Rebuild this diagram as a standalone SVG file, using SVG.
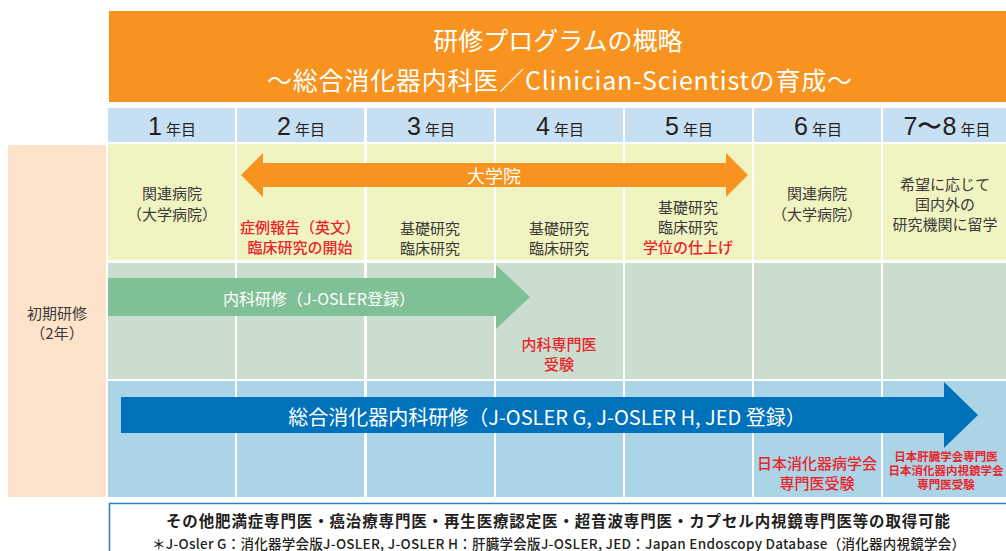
<svg xmlns="http://www.w3.org/2000/svg" width="1006" height="551" viewBox="0 0 1006 551">
<style>
text{font-family:"Noto Sans CJK JP","Noto Sans",sans-serif;}
.t{font-size:15px;fill:#3a3a3a;text-anchor:middle;dominant-baseline:central;}
.r{font-size:15px;fill:#e8252b;text-anchor:middle;dominant-baseline:central;font-weight:500;}
.rs{font-size:11.5px;fill:#e8252b;text-anchor:middle;dominant-baseline:central;font-weight:700;}
.w{fill:#fff;text-anchor:middle;dominant-baseline:central;}
.hd{fill:#c6dff2;}
.y{fill:#f1f3c1;}
.g{fill:#cbddcf;}
.b{fill:#abd4e7;}
.yr{font-size:15px;fill:#231f20;text-anchor:middle;}
.num{font-family:"Liberation Sans",sans-serif;font-size:25px;}
</style>
<rect width="1006" height="551" fill="#fff"/>
<g id="title">
<rect x="109" y="11" width="897" height="91" fill="#f7931e"/>
<text class="w" x="558" y="39" font-size="25">研修プログラムの概略</text>
<text class="w" x="559.5" y="79" font-size="25" textLength="585">〜総合消化器内科医／Clinician-Scientistの育成〜</text>
</g>
<g id="header">
<rect class="hd" x="108" y="108" width="127" height="34"/>
<rect class="hd" x="237" y="108" width="127" height="34"/>
<rect class="hd" x="367" y="108" width="127" height="34"/>
<rect class="hd" x="496" y="108" width="127" height="34"/>
<rect class="hd" x="625" y="108" width="127" height="34"/>
<rect class="hd" x="754" y="108" width="127" height="34"/>
<rect class="hd" x="883" y="108" width="123" height="34"/>
<text class="yr" x="172" y="135"><tspan class="num">1</tspan><tspan dx="4">年目</tspan></text>
<text class="yr" x="301" y="135"><tspan class="num">2</tspan><tspan dx="4">年目</tspan></text>
<text class="yr" x="431" y="135"><tspan class="num">3</tspan><tspan dx="4">年目</tspan></text>
<text class="yr" x="560" y="135"><tspan class="num">4</tspan><tspan dx="4">年目</tspan></text>
<text class="yr" x="689" y="135"><tspan class="num">5</tspan><tspan dx="4">年目</tspan></text>
<text class="yr" x="818" y="135"><tspan class="num">6</tspan><tspan dx="4">年目</tspan></text>
<text class="yr" x="947" y="135"><tspan class="num">7〜8</tspan><tspan dx="4">年目</tspan></text>
</g>
<g id="left">
<rect x="8" y="145" width="98" height="352" fill="#fde3c9"/>
<text class="t" x="57" y="312">初期研修</text>
<text class="t" x="57" y="332">（2年）</text>
</g>
<g id="row1">
<rect class="y" x="108" y="144" width="127" height="116"/>
<rect class="y" x="237" y="144" width="127" height="116"/>
<rect class="y" x="367" y="144" width="127" height="116"/>
<rect class="y" x="496" y="144" width="127" height="116"/>
<rect class="y" x="625" y="144" width="127" height="116"/>
<rect class="y" x="754" y="144" width="127" height="116"/>
<rect class="y" x="883" y="144" width="123" height="116"/>
<text class="t" x="172" y="192">関連病院</text>
<text class="t" x="172" y="213">（大学病院）</text>
<text class="r" x="300" y="226">症例報告（英文）</text>
<text class="r" x="300" y="246">臨床研究の開始</text>
<text class="t" x="430" y="227">基礎研究</text>
<text class="t" x="430" y="247">臨床研究</text>
<text class="t" x="559" y="227">基礎研究</text>
<text class="t" x="559" y="247">臨床研究</text>
<text class="t" x="688" y="206">基礎研究</text>
<text class="t" x="688" y="226">臨床研究</text>
<text class="r" x="688" y="246">学位の仕上げ</text>
<text class="t" x="817" y="192">関連病院</text>
<text class="t" x="817" y="213">（大学病院）</text>
<text class="t" x="945" y="183">希望に応じて</text>
<text class="t" x="945" y="203">国内外の</text>
<text class="t" x="945" y="223">研究機関に留学</text>
</g>
<g id="row2">
<rect class="g" x="108" y="263" width="127" height="116"/>
<rect class="g" x="237" y="263" width="127" height="116"/>
<rect class="g" x="367" y="263" width="127" height="116"/>
<rect class="g" x="496" y="263" width="127" height="116"/>
<rect class="g" x="625" y="263" width="127" height="116"/>
<rect class="g" x="754" y="263" width="127" height="116"/>
<rect class="g" x="883" y="263" width="123" height="116"/>
<text class="r" x="559" y="343">内科専門医</text>
<text class="r" x="559" y="363">受験</text>
</g>
<g id="row3">
<rect class="b" x="108" y="381" width="127" height="116"/>
<rect class="b" x="237" y="381" width="127" height="116"/>
<rect class="b" x="367" y="381" width="127" height="116"/>
<rect class="b" x="496" y="381" width="127" height="116"/>
<rect class="b" x="625" y="381" width="127" height="116"/>
<rect class="b" x="754" y="381" width="127" height="116"/>
<rect class="b" x="883" y="381" width="123" height="116"/>
<text class="r" x="817" y="462">日本消化器病学会</text>
<text class="r" x="817" y="482">専門医受験</text>
<text class="rs" x="946" y="456">日本肝臓学会専門医</text>
<text class="rs" x="946" y="470">日本消化器内視鏡学会</text>
<text class="rs" x="946" y="484">専門医受験</text>
</g>
<g id="connectors">
<polygon points="241,175 263,153 263,163 726,163 726,153 748,175 726,197 726,187 263,187 263,197" fill="#f7931e"/>
<text class="w" x="494" y="175" font-size="18">大学院</text>
<polygon points="108,278 496,278 496,265 530,297 496,329 496,316 108,316" fill="#80c096"/>
<text class="w" x="319" y="298" font-size="16">内科研修（J-OSLER登録）</text>
<polygon points="121,397 944,397 944,382 978,415 944,448 944,433 121,433" fill="#0071bb"/>
<text class="w" x="547" y="416" font-size="20">総合消化器内科研修（J-OSLER G, J-OSLER H, JED 登録）</text>
</g>
<g id="note">
<rect x="109.5" y="503.5" width="900" height="60" fill="#fff" stroke="#2a7fc4" stroke-width="1.5"/>
<text x="558" y="520" font-size="15.5" font-weight="700" fill="#231f20" text-anchor="middle" dominant-baseline="central" textLength="784">その他肥満症専門医・癌治療専門医・再生医療認定医・超音波専門医・カプセル内視鏡専門医等の取得可能</text>
<text x="558.5" y="543" font-size="13.5" font-weight="500" fill="#231f20" text-anchor="middle" dominant-baseline="central" textLength="813">＊J-Osler G：消化器学会版J-OSLER,  J-OSLER H：肝臓学会版J-OSLER,  JED：Japan Endoscopy Database（消化器内視鏡学会）</text>
</g>
</svg>
